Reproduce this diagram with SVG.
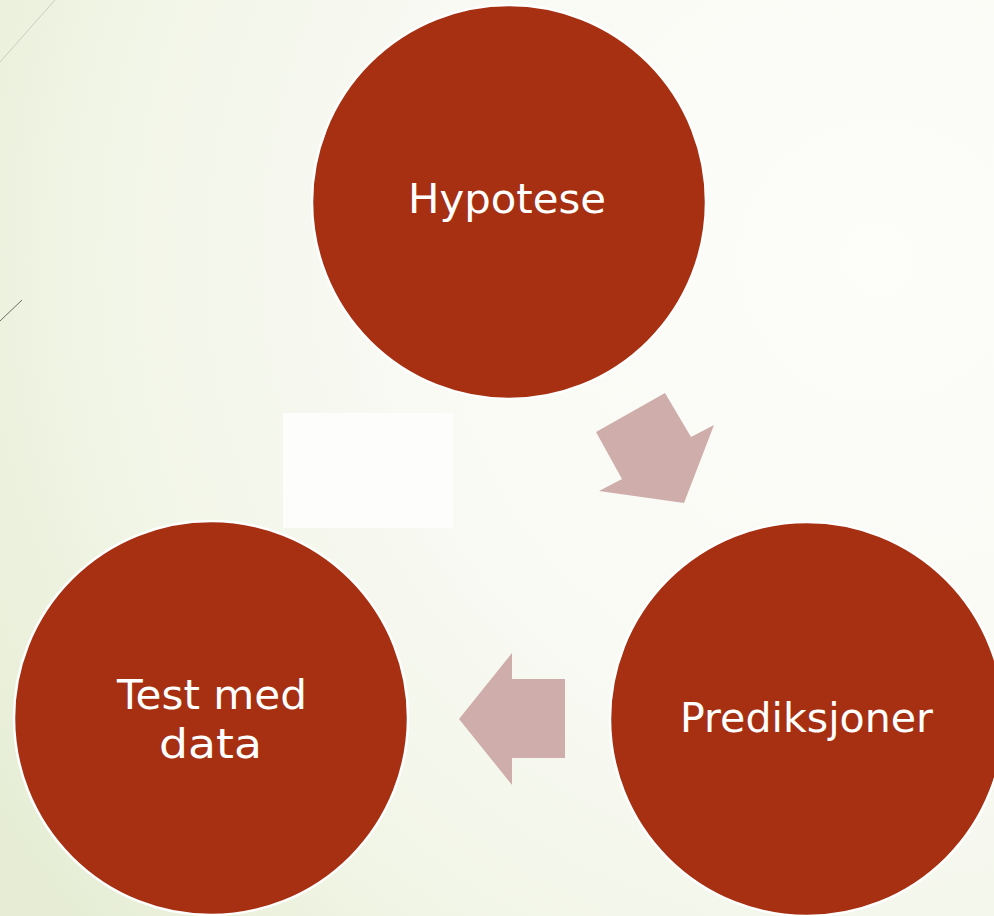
<svg xmlns="http://www.w3.org/2000/svg" width="994" height="916" viewBox="0 0 994 916">
  <style>
    .node circle { fill: #A63011; stroke: #FFFFFF; stroke-width: 2.5; }
    .node text { fill: #FFFFFF; font-family: "DejaVu Sans", "Liberation Sans", sans-serif; font-size: 41px; text-anchor: middle; }
    .arrow { fill: #CFADAA; }
  </style>
  <defs>
    <radialGradient id="bg" cx="880" cy="260" r="1050" gradientUnits="userSpaceOnUse">
      <stop offset="0" stop-color="#FDFDFA"/>
      <stop offset="0.45" stop-color="#F9FAF4"/>
      <stop offset="0.75" stop-color="#F1F5E6"/>
      <stop offset="1" stop-color="#E6EDD4"/>
    </radialGradient>
  </defs>

  <!-- background -->
  <rect x="0" y="0" width="994" height="916" fill="url(#bg)"/>
  <line x1="0" y1="62" x2="55" y2="0" stroke="#C9CCC0" stroke-width="1"/>
  <line x1="0" y1="321" x2="22" y2="300" stroke="#6E6A60" stroke-width="1"/>
  <rect x="283" y="413" width="170" height="115" fill="#FDFEFB"/>

  <!-- connectors -->
  <g id="connectors">
    <polygon class="arrow" points="596,432 665,393 691,437 714,425 684,503 599,491 622,479"/>
    <polygon class="arrow" points="459,719 512,653 512,679 565,679 565,758 512,758 512,785"/>
  </g>

  <!-- nodes -->
  <g id="node-hypotese" class="node">
    <circle cx="509" cy="202" r="197"/>
    <text x="507" y="213" textLength="198" lengthAdjust="spacingAndGlyphs">Hypotese</text>
  </g>
  <g id="node-prediksjoner" class="node">
    <circle cx="807" cy="719" r="197"/>
    <text x="806.5" y="732" textLength="253" lengthAdjust="spacingAndGlyphs">Prediksjoner</text>
  </g>
  <g id="node-test" class="node">
    <circle cx="211" cy="718" r="197"/>
    <text x="212" y="709" textLength="190" lengthAdjust="spacingAndGlyphs">Test med</text>
    <text x="210.5" y="758" textLength="103" lengthAdjust="spacingAndGlyphs">data</text>
  </g>
</svg>
